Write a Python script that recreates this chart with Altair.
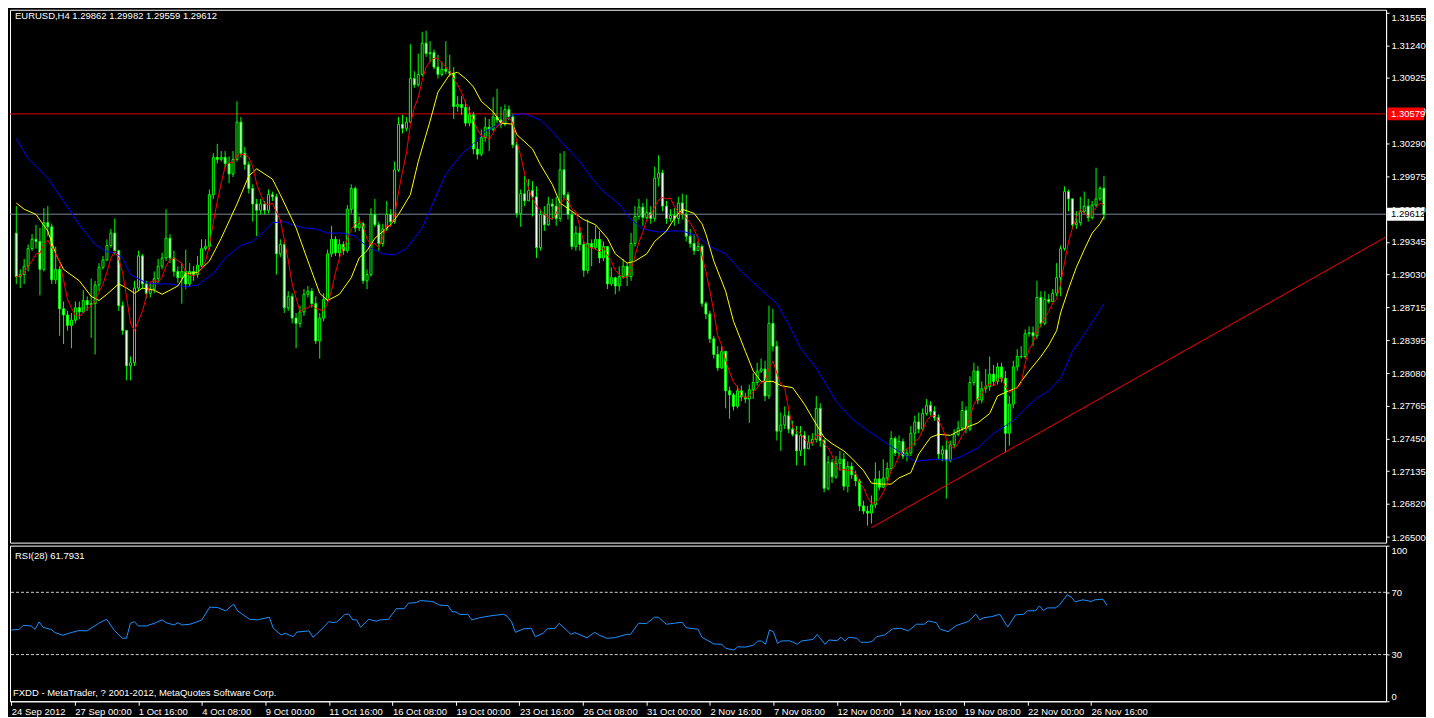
import altair as alt
import pandas as pd

FONT = "Tahoma, Liberation Sans, Arial, sans-serif"
FS = 9.5

# ---------------- data ----------------
first_open = 1.2943
close = [
    1.2901, 1.2903, 1.2911, 1.2928, 1.2937, 1.2935, 1.2908, 1.2953, 1.2949, 1.2898,
    1.2908, 1.2870, 1.2864, 1.2854, 1.2859, 1.2871, 1.2867, 1.2878, 1.2874, 1.2875,
    1.2893, 1.2910, 1.2917, 1.2931, 1.2943, 1.2926, 1.2873, 1.2849, 1.2815, 1.2818,
    1.2890, 1.2921, 1.2894, 1.2885, 1.2889, 1.2899, 1.2911, 1.2919, 1.2938, 1.2919,
    1.2906, 1.2900, 1.2906, 1.2894, 1.2906, 1.2903, 1.2912, 1.2928, 1.2930, 1.2980,
    1.3016, 1.3014, 1.3016, 1.3010, 1.3000, 1.3014, 1.3050, 1.3020, 1.3009, 1.2986,
    1.2971, 1.2965, 1.2971, 1.2965, 1.2980, 1.2978, 1.2923, 1.2932, 1.2871, 1.2882,
    1.2861, 1.2856, 1.2867, 1.2884, 1.2887, 1.2875, 1.2839, 1.2861, 1.2879, 1.2923,
    1.2937, 1.2924, 1.2932, 1.2926, 1.2966, 1.2986, 1.2948, 1.2952, 1.2897, 1.2903,
    1.2961, 1.2951, 1.2933, 1.2947, 1.2961, 1.2954, 1.3004, 1.3048, 1.3044, 1.3050,
    1.3092, 1.3086, 1.3096, 1.3126, 1.3116, 1.3117, 1.3103, 1.3096, 1.3101, 1.3099,
    1.3097, 1.3065, 1.3067, 1.3064, 1.3049, 1.3057, 1.3024, 1.3019, 1.3035, 1.3045,
    1.3043, 1.3055, 1.3052, 1.3048, 1.3062, 1.3055, 1.3028, 1.2962, 1.2981, 1.2974,
    1.2984, 1.2978, 1.2929, 1.2961, 1.2951, 1.2971, 1.2969, 1.2957, 1.3004, 1.2980,
    1.2961, 1.2930, 1.2943, 1.2932, 1.2907, 1.2933, 1.2929, 1.2937, 1.2919, 1.2930,
    1.2894, 1.2900, 1.2892, 1.2901, 1.2911, 1.2901, 1.2933, 1.2959, 1.2968, 1.2958,
    1.2963, 1.2957, 1.2996, 1.3001, 1.2969, 1.2957, 1.2960, 1.2957, 1.2972, 1.2961,
    1.2940, 1.2933, 1.2926, 1.2930, 1.2875, 1.2865, 1.2841, 1.2826, 1.2813, 1.2829,
    1.2791, 1.2787, 1.2776, 1.2791, 1.2785, 1.2783, 1.2792, 1.2799, 1.2810, 1.2812,
    1.2786, 1.2856, 1.2834, 1.2752, 1.2758, 1.2767, 1.2754, 1.2749, 1.2733, 1.2748,
    1.2735, 1.2741, 1.2744, 1.2774, 1.2743, 1.2697, 1.2722, 1.2708, 1.2721, 1.2725,
    1.2699, 1.2718, 1.2710, 1.2704, 1.2680, 1.2675, 1.2673, 1.2681, 1.2706, 1.2698,
    1.2707, 1.2716, 1.2745, 1.2731, 1.2742, 1.2728, 1.2731, 1.2750, 1.2761, 1.2754,
    1.2769, 1.2777, 1.2771, 1.2765, 1.2730, 1.2734, 1.2724, 1.2739, 1.2749, 1.2755,
    1.2772, 1.2754, 1.2799, 1.2810, 1.2782, 1.2793, 1.2795, 1.2807, 1.2800, 1.2814,
    1.2803, 1.2750, 1.2778, 1.2814, 1.2824, 1.2824, 1.2846, 1.2847, 1.2844, 1.2881,
    1.2856, 1.2879, 1.2877, 1.2885, 1.2900, 1.2928, 1.2983, 1.2976, 1.2951, 1.2953,
    1.2964, 1.2969, 1.2958, 1.2970, 1.2976, 1.29862, 1.29612,
]
high = [
    1.2969, 1.2908, 1.2918, 1.2932, 1.2942, 1.2951, 1.2948, 1.2967, 1.2969, 1.2952,
    1.2930, 1.2911, 1.2877, 1.2868, 1.2866, 1.2877, 1.2877, 1.2888, 1.2882, 1.2899,
    1.2897, 1.2914, 1.2921, 1.2937, 1.2947, 1.2957, 1.2927, 1.2877, 1.2847, 1.2824,
    1.2897, 1.2926, 1.2923, 1.2897, 1.2894, 1.2906, 1.2918, 1.2924, 1.2966, 1.2942,
    1.2926, 1.2911, 1.2914, 1.2927, 1.2914, 1.2911, 1.2921, 1.2937, 1.2937, 1.2985,
    1.3020, 1.3029, 1.3022, 1.3022, 1.3017, 1.3022, 1.3070, 1.3055, 1.3026, 1.3012,
    1.2990, 1.2976, 1.2976, 1.2974, 1.2985, 1.2983, 1.2981, 1.2937, 1.2935, 1.2887,
    1.2885, 1.2866, 1.2873, 1.2889, 1.2892, 1.2890, 1.2882, 1.2866, 1.2885, 1.2927,
    1.2950, 1.2940, 1.2937, 1.2935, 1.2970, 1.2990, 1.2988, 1.2959, 1.2954, 1.2908,
    1.2967, 1.2976, 1.2954, 1.2952, 1.2974, 1.2966, 1.3012, 1.3055, 1.3057, 1.3055,
    1.3125, 1.3099, 1.3116, 1.3137, 1.3138, 1.3128, 1.3120, 1.3115, 1.3108, 1.3128,
    1.3115, 1.3103, 1.3075, 1.3075, 1.3070, 1.3065, 1.3060, 1.3031, 1.3043, 1.3055,
    1.3053, 1.3074, 1.3082, 1.3065, 1.3067, 1.3066, 1.3058, 1.3031, 1.2985, 1.2998,
    1.2995, 1.2993, 1.2988, 1.2966, 1.2969, 1.2978, 1.2976, 1.2978, 1.3020, 1.3022,
    1.2983, 1.2964, 1.2950, 1.2949, 1.2935, 1.2956, 1.2937, 1.2950, 1.2945, 1.2935,
    1.2930, 1.2910, 1.2901, 1.2911, 1.2918, 1.2914, 1.2943, 1.2969, 1.2976, 1.2972,
    1.2976, 1.2969, 1.3007, 1.3018, 1.3004, 1.2974, 1.2966, 1.2967, 1.2978, 1.2981,
    1.2980, 1.2947, 1.2942, 1.2935, 1.2932, 1.2877, 1.2868, 1.2844, 1.2834, 1.2834,
    1.2829, 1.2795, 1.2789, 1.2796, 1.2796, 1.2789, 1.2797, 1.2808, 1.2818, 1.2822,
    1.2820, 1.2873, 1.2870, 1.2839, 1.2770, 1.2776, 1.2772, 1.2762, 1.2757, 1.2757,
    1.2752, 1.2748, 1.2750, 1.2786, 1.2779, 1.2745, 1.2728, 1.2725, 1.2728, 1.2733,
    1.2731, 1.2723, 1.2722, 1.2714, 1.2706, 1.2685, 1.2680, 1.2690, 1.2722, 1.2714,
    1.2725, 1.2722, 1.2752, 1.2747, 1.2748, 1.2745, 1.2735, 1.2757, 1.2767, 1.2770,
    1.2774, 1.2783, 1.2781, 1.2776, 1.2768, 1.2738, 1.2743, 1.2743, 1.2754, 1.2762,
    1.2781, 1.2776, 1.2805, 1.2818, 1.2815, 1.2800, 1.2812, 1.2824, 1.2816, 1.2818,
    1.2818, 1.2810, 1.2786, 1.2820, 1.2831, 1.2834, 1.2850, 1.2853, 1.2853, 1.2897,
    1.2887, 1.2887, 1.2884, 1.2889, 1.2914, 1.2931, 1.2988, 1.2985, 1.2976, 1.2964,
    1.2978, 1.2983, 1.2976, 1.2974, 1.3006, 1.2988, 1.29982,
]
low = [
    1.2894, 1.2890, 1.2894, 1.2906, 1.2926, 1.2928, 1.2883, 1.2906, 1.2940, 1.2894,
    1.2894, 1.2844, 1.2836, 1.2849, 1.2832, 1.2856, 1.2860, 1.2866, 1.2868, 1.2842,
    1.2826, 1.2887, 1.2908, 1.2916, 1.2929, 1.2922, 1.2868, 1.2845, 1.2801, 1.2801,
    1.2815, 1.2887, 1.2889, 1.2880, 1.2881, 1.2885, 1.2895, 1.2908, 1.2916, 1.2914,
    1.2901, 1.2895, 1.2875, 1.2889, 1.2891, 1.2897, 1.2900, 1.2910, 1.2926, 1.2927,
    1.2976, 1.3010, 1.3012, 1.3006, 1.2991, 1.2997, 1.3012, 1.3016, 1.3004, 1.2981,
    1.2954, 1.2940, 1.2961, 1.2961, 1.2962, 1.2974, 1.2903, 1.2920, 1.2866, 1.2868,
    1.2856, 1.2832, 1.2852, 1.2863, 1.2881, 1.2871, 1.2836, 1.2822, 1.2858, 1.2877,
    1.2920, 1.2921, 1.2920, 1.2922, 1.2924, 1.2962, 1.2944, 1.2945, 1.2894, 1.2889,
    1.2901, 1.2949, 1.2926, 1.2930, 1.2945, 1.2950, 1.2952, 1.3002, 1.3039, 1.3041,
    1.3049, 1.3083, 1.3084, 1.3094, 1.3113, 1.3108, 1.3101, 1.3092, 1.3094, 1.3096,
    1.3094, 1.3053, 1.3060, 1.3057, 1.3046, 1.3046, 1.3019, 1.3014, 1.3017, 1.3031,
    1.3022, 1.3041, 1.3049, 1.3044, 1.3046, 1.3052, 1.3025, 1.2958, 1.2949, 1.2969,
    1.2976, 1.2959, 1.2919, 1.2926, 1.2945, 1.2950, 1.2956, 1.2950, 1.2954, 1.2976,
    1.2956, 1.2927, 1.2926, 1.2926, 1.2901, 1.2904, 1.2911, 1.2927, 1.2914, 1.2916,
    1.2889, 1.2892, 1.2884, 1.2887, 1.2899, 1.2892, 1.2897, 1.2930, 1.2956, 1.2950,
    1.2956, 1.2952, 1.2954, 1.2988, 1.2964, 1.2952, 1.2954, 1.2950, 1.2952, 1.2956,
    1.2935, 1.2929, 1.2922, 1.2926, 1.2872, 1.2860, 1.2837, 1.2822, 1.2810, 1.2812,
    1.2774, 1.2764, 1.2772, 1.2774, 1.2781, 1.2779, 1.2760, 1.2783, 1.2796, 1.2808,
    1.2781, 1.2783, 1.2829, 1.2743, 1.2733, 1.2754, 1.2750, 1.2747, 1.2719, 1.2728,
    1.2719, 1.2735, 1.2738, 1.2741, 1.2737, 1.2693, 1.2695, 1.2702, 1.2706, 1.2714,
    1.2695, 1.2693, 1.2706, 1.2699, 1.2675, 1.2672, 1.2661, 1.2663, 1.2678, 1.2695,
    1.2697, 1.2704, 1.2714, 1.2728, 1.2728, 1.2725, 1.2723, 1.2728, 1.2738, 1.2750,
    1.2752, 1.2767, 1.2767, 1.2762, 1.2725, 1.2723, 1.2687, 1.2722, 1.2736, 1.2747,
    1.2752, 1.2750, 1.2752, 1.2796, 1.2778, 1.2779, 1.2789, 1.2791, 1.2796, 1.2797,
    1.2799, 1.2732, 1.2738, 1.2774, 1.2810, 1.2822, 1.2822, 1.2843, 1.2834, 1.2841,
    1.2852, 1.2854, 1.2875, 1.2877, 1.2882, 1.2882, 1.2926, 1.2964, 1.2947, 1.2947,
    1.2950, 1.2962, 1.2954, 1.2956, 1.2968, 1.2974, 1.29559,
]

# moving average lines (yellow, blue) read at bar positions
yel_idx = [0, 2, 5, 8, 10, 12, 16, 19, 21, 23, 26, 28, 30, 32, 35, 37, 41, 43, 46, 49,
           52, 56, 59, 61, 65, 67, 71, 74, 77, 79, 82, 85, 87, 89, 91, 95, 97, 100, 102, 105,
           107, 110, 112, 114, 116, 118, 121, 123, 126, 127, 131, 133, 136, 138, 141, 144, 147, 150, 152, 155,
           157, 160, 162, 165, 167, 169, 172, 174, 175, 177, 180, 182, 185, 187, 189, 192, 194, 197, 200, 202,
           205, 207, 210, 212, 215, 217, 219, 222, 224, 227, 229, 232, 234, 237, 239, 242, 244, 247, 249, 252,
           254, 255, 257, 260, 262, 264, 265, 267, 269, 271, 273, 275, 276]
yel_val = [1.2972, 1.2966, 1.2961, 1.2945, 1.2923, 1.2908, 1.2897, 1.2882, 1.2878, 1.2884,
           1.2894, 1.2890, 1.2885, 1.2890, 1.2888, 1.2884, 1.2892, 1.2904, 1.2905, 1.2916,
           1.2938, 1.2971, 1.2998, 1.3005, 1.2995, 1.2980, 1.2948, 1.2916, 1.2885, 1.2878,
           1.2884, 1.2900, 1.2919, 1.2926, 1.2938, 1.2951, 1.2961, 1.2980, 1.3012, 1.3051,
           1.3079, 1.3096, 1.3098, 1.3092, 1.3084, 1.3070, 1.3060, 1.3049, 1.3048, 1.3038,
           1.3024, 1.3009, 1.2990, 1.2972, 1.2964, 1.2956, 1.2951, 1.2938, 1.2923, 1.2914,
           1.2916, 1.2923, 1.2935, 1.2945, 1.2957, 1.2966, 1.2962, 1.2952, 1.2942, 1.2916,
           1.2887, 1.2858, 1.2829, 1.2810, 1.2800, 1.2800, 1.2796, 1.2794, 1.2778, 1.2765,
           1.2746, 1.2740, 1.2733, 1.2726, 1.2714, 1.2702, 1.2701, 1.2701, 1.2707, 1.2712,
           1.2730, 1.2746, 1.2749, 1.2748, 1.2752, 1.2757, 1.2760, 1.2769, 1.2786, 1.2791,
           1.2794, 1.2800, 1.2810, 1.2824, 1.2835, 1.2849, 1.2866, 1.2889, 1.2910, 1.2927,
           1.2943, 1.2952, 1.2959]
blue_idx = [0, 3, 8, 12, 16, 20, 23, 25, 27, 29, 33, 36, 39, 43, 46, 50, 53, 57, 60, 63,
            65, 68, 70, 73, 76, 79, 83, 86, 89, 93, 96, 99, 103, 106, 109, 113, 116, 119, 123, 126,
            129, 133, 136, 139, 143, 146, 149, 153, 156, 159, 163, 166, 169, 173, 176, 180, 184, 188, 193, 196,
            199, 203, 206, 208, 212, 217, 221, 225, 228, 233, 237, 240, 244, 248, 253, 256, 259, 262, 265, 268,
            272, 276]
blue_val = [1.3034, 1.3015, 1.2996, 1.2974, 1.2951, 1.2932, 1.2925, 1.2924, 1.2919, 1.2903,
            1.2895, 1.2894, 1.2894, 1.2891, 1.2893, 1.2904, 1.2919, 1.2931, 1.2935, 1.2945,
            1.2953, 1.2954, 1.2951, 1.2948, 1.2947, 1.2943, 1.2943, 1.2940, 1.2930, 1.2923,
            1.2922, 1.2928, 1.2948, 1.2974, 1.3000, 1.3019, 1.3029, 1.3041, 1.3049, 1.3057,
            1.3058, 1.3052, 1.3041, 1.3028, 1.3012, 1.2996, 1.2983, 1.2971, 1.2956, 1.2947,
            1.2944, 1.2945, 1.2945, 1.2940, 1.2930, 1.2923, 1.2906, 1.2892, 1.2875, 1.2855,
            1.2832, 1.2813, 1.2794, 1.2781, 1.2764, 1.2750, 1.2740, 1.2730, 1.2723, 1.2725,
            1.2724, 1.2728, 1.2736, 1.2750, 1.2762, 1.2774, 1.2784, 1.2791, 1.2803, 1.2829,
            1.2851, 1.2875]

# RSI(28)
rsi_idx = [0, 2, 3, 5, 6, 7, 8, 10, 11, 13, 15, 17, 19, 21, 22, 24, 26, 28, 29, 30,
           31, 32, 34, 36, 38, 39, 41, 42, 43, 45, 47, 48, 50, 52, 54, 56, 57, 60, 62, 65,
           66, 68, 69, 71, 72, 75, 76, 78, 80, 81, 82, 84, 85, 86, 87, 88, 90, 92, 93, 95,
           97, 99, 100, 102, 103, 106, 108, 110, 111, 112, 113, 115, 116, 118, 121, 124, 125, 126, 127, 129,
           131, 132, 134, 135, 137, 138, 141, 142, 145, 147, 148, 150, 152, 155, 156, 158, 160, 162, 163, 165,
           167, 169, 170, 171, 173, 174, 177, 179, 180, 182, 183, 185, 187, 188, 189, 190, 191, 192, 193, 194,
           196, 197, 198, 199, 201, 202, 203, 205, 206, 208, 209, 210, 211, 213, 214, 216, 217, 218, 220, 222,
           224, 226, 228, 230, 231, 233, 234, 236, 238, 241, 243, 244, 245, 247, 249, 251, 253, 255, 256, 258,
           259, 260, 261, 263, 264, 266, 267, 268, 270, 272, 273, 275, 276]
rsi_val = [45.8, 46.2, 48.8, 48.4, 46.2, 51.0, 47.5, 46.2, 44.1, 42.4, 44.1, 45.4, 45.2, 48.4, 50.1, 52.7, 45.4, 40.5, 40.5, 50.1,
           51.2, 48.4, 48.4, 50.1, 52.3, 50.5, 49.0, 50.5, 49.0, 49.5, 51.2, 52.3, 60.5, 60.2, 58.1, 62.4, 58.1, 52.7, 52.3, 54.0,
           46.9, 42.6, 43.7, 41.5, 44.5, 45.2, 41.1, 45.8, 51.2, 50.5, 51.0, 55.7, 56.1, 52.3, 52.3, 47.5, 52.7, 51.4, 52.3, 52.7,
           59.5, 59.5, 63.0, 63.4, 64.7, 64.1, 61.7, 61.5, 57.6, 57.4, 55.7, 55.9, 52.3, 53.7, 55.0, 55.9, 54.4, 51.2, 44.3, 46.5,
           46.9, 41.5, 43.7, 46.5, 46.9, 50.1, 43.0, 44.1, 40.8, 44.3, 42.6, 40.5, 40.8, 43.0, 43.0, 50.1, 49.9, 54.0, 54.0, 49.5,
           50.1, 50.8, 47.3, 46.9, 46.3, 41.1, 36.8, 36.6, 34.0, 32.9, 35.0, 34.8, 36.1, 38.7, 38.7, 36.6, 45.8, 44.7, 37.2, 38.7,
           38.9, 37.9, 36.6, 38.7, 39.4, 39.8, 43.0, 36.6, 39.4, 38.9, 41.1, 38.7, 41.1, 40.5, 37.9, 37.9, 38.7, 41.5, 42.6, 46.5,
           46.9, 45.2, 49.5, 49.5, 51.6, 50.5, 46.3, 44.7, 48.6, 51.2, 55.9, 52.3, 53.7, 54.4, 55.9, 47.7, 55.5, 55.9, 58.1, 58.1,
           61.3, 58.3, 60.0, 60.0, 61.7, 68.4, 66.9, 63.9, 65.2, 64.1, 65.2, 65.6, 61.7931]

# chart objects
hline_price = [1.30579, 1.29612]
hline_color = ["#e00000", "#778899"]
box_color = ["#ff0000", "#ffffff"]
box_text_color = ["#ffffff", "#000000"]
trend_idx = [217, 360]
trend_price = [1.2659, 1.2966]

price_ticks = [1.31555, 1.31240, 1.30925, 1.30610, 1.30290, 1.29975, 1.29660, 1.29345,
               1.29030, 1.28715, 1.28395, 1.28080, 1.27765, 1.27450, 1.27135, 1.26820, 1.26500]
time_tick_idx = [0, 16, 32, 48, 64, 80, 96, 112, 128, 144, 160, 176, 192, 208, 224, 240, 256, 272]
time_tick_lbl = ["24 Sep 2012", "27 Sep 00:00", "1 Oct 16:00", "4 Oct 08:00", "9 Oct 00:00",
                 "11 Oct 16:00", "16 Oct 08:00", "19 Oct 00:00", "23 Oct 16:00", "26 Oct 08:00",
                 "31 Oct 00:00", "2 Nov 16:00", "7 Nov 08:00", "12 Nov 00:00", "14 Nov 16:00",
                 "19 Nov 08:00", "22 Nov 00:00", "26 Nov 16:00"]
rsi_levels = [30, 70]

# ---------------- tables ----------------
n = len(close)
open_ = [first_open] + close[:-1]
hi = [max(h, o, c) for h, o, c in zip(high, open_, close)]
lo = [min(l, o, c) for l, o, c in zip(low, open_, close)]
candles = pd.DataFrame({"idx": list(range(n)), "open": open_, "high": hi, "low": lo, "close": close})
yel = pd.DataFrame({"idx": yel_idx, "v": yel_val})
blue = pd.DataFrame({"idx": blue_idx, "v": blue_val})
rsi = pd.DataFrame({"idx": rsi_idx, "rsi": rsi_val})
hl = pd.DataFrame({"price": hline_price, "col": hline_color, "box": box_color,
                   "tcol": box_text_color, "label": [f"{p:.5f}" for p in hline_price]})
trend = pd.DataFrame({"idx": trend_idx, "price": trend_price})
header = pd.DataFrame({"t": [f"EURUSD,H4  {open_[-1]:.5f} {hi[-1]:.5f} {lo[-1]:.5f} {close[-1]:.5f}"]})
rsi_head = pd.DataFrame({"t": [f"RSI(28) {rsi_val[-1]:.4f}"]})
copyright_ = pd.DataFrame({"t": ["FXDD - MetaTrader, ? 2001-2012, MetaQuotes Software Corp."]})
lv = pd.DataFrame({"lvl": rsi_levels})

# ---------------- scales / axes ----------------
W = 1379
H_MAIN = 534
H_RSI = 156
BAR_PX = 3.978
xscale = alt.Scale(domain=[-0.33, -0.33 + W / BAR_PX], nice=False, zero=False)
yscale = alt.Scale(domain=[1.26446, 1.31583], nice=False, zero=False)

price_axis = alt.Axis(orient="right", values=price_ticks, format=".5f", title=None, grid=False,
                      tickSize=3, labelPadding=2, labelOverlap=False, labelFlush=4, labelBound=False)


def PX():
    return alt.X("idx:Q", scale=xscale, axis=None)


def PY(field):
    return alt.Y(field, scale=yscale, axis=price_axis)


hrules = alt.Chart(hl).mark_rule(strokeWidth=1).encode(
    y=PY("price:Q"), color=alt.Color("col:N", scale=None))
wicks = alt.Chart(candles).mark_rule(color="#00ff00", strokeWidth=1).encode(
    x=PX(), y=PY("low:Q"), y2="high:Q")
bodies = alt.Chart(candles).mark_bar(size=2, stroke="#00ff00", strokeWidth=1).encode(
    x=PX(), y=PY("open:Q"), y2="close:Q",
    fill=alt.condition("datum.close < datum.open", alt.value("#ffffff"), alt.value("#000000")))
blue_line = alt.Chart(blue).mark_line(color="#0000ff", strokeWidth=1).encode(x=PX(), y=PY("v:Q"))
yel_line = alt.Chart(yel).mark_line(color="#ffff00", strokeWidth=1).encode(x=PX(), y=PY("v:Q"))
red_line = alt.Chart(candles).transform_window(
    ma5="mean(close)", frame=[-4, 0], sort=[alt.SortField("idx", order="ascending")]
).mark_line(color="#ff0000", strokeWidth=1).encode(x=PX(), y=PY("ma5:Q"))
trend_line = alt.Chart(trend).mark_line(color="#ff0000", strokeWidth=1, clip=True).encode(
    x=PX(), y=PY("price:Q"))
BOX_W = 37
box_path = "M-1,-0.35L1,-0.35L1,0.35L-1,0.35Z"
boxes = alt.Chart(hl).mark_point(shape=box_path, size=BOX_W * BOX_W, filled=True, opacity=1,
                                 strokeWidth=0).encode(
    x=alt.value(W + 1 + BOX_W / 2), y=PY("price:Q"), color=alt.Color("box:N", scale=None))
box_txt = alt.Chart(hl).mark_text(align="left", baseline="middle", font=FONT, fontSize=FS).encode(
    x=alt.value(W + 5), y=PY("price:Q"), text="label:N", color=alt.Color("tcol:N", scale=None))
head_txt = alt.Chart(header).mark_text(align="left", baseline="middle", font=FONT, fontSize=FS,
                                       color="#ffffff").encode(
    x=alt.value(5), y=alt.value(6), text="t:N")

main = alt.layer(hrules, wicks, bodies, blue_line, yel_line, red_line, trend_line,
                 boxes, box_txt, head_txt).properties(width=W, height=H_MAIN)

label_expr = "[" + ",".join(f"'{s}'" for s in time_tick_lbl) + "][round(datum.value/16)]"
time_axis = alt.Axis(values=time_tick_idx, labelExpr=label_expr, title=None, grid=False,
                     tickSize=4, labelAlign="left", labelBaseline="top", labelPadding=1,
                     labelFlush=False, labelOverlap=False, labelBound=False)
rsi_axis = alt.Axis(orient="right", values=[0, 30, 70, 100], title=None, grid=False,
                    tickSize=3, labelPadding=2, labelFlush=True, labelOverlap=False)
rscale = alt.Scale(domain=[0, 100], nice=False, zero=False)

rsi_line = alt.Chart(rsi).mark_line(color="#1e90ff", strokeWidth=1).encode(
    x=alt.X("idx:Q", scale=xscale, axis=time_axis),
    y=alt.Y("rsi:Q", scale=rscale, axis=rsi_axis))
rsi_lv = alt.Chart(lv).mark_rule(color="#d0d0d0", strokeDash=[3, 2], strokeWidth=1).encode(
    y=alt.Y("lvl:Q", scale=rscale, axis=rsi_axis))
rsi_t = alt.Chart(rsi_head).mark_text(align="left", baseline="middle", font=FONT, fontSize=FS,
                                      color="#ffffff").encode(x=alt.value(5), y=alt.value(10), text="t:N")
copy_t = alt.Chart(copyright_).mark_text(align="left", baseline="middle", font=FONT, fontSize=FS,
                                         color="#ffffff").encode(x=alt.value(3), y=alt.value(148), text="t:N")

rsi_panel = alt.layer(rsi_lv, rsi_line, rsi_t, copy_t).properties(width=W, height=H_RSI)

chart = alt.vconcat(main, rsi_panel, spacing=3, bounds="flush").properties(
    padding={"left": 0, "top": 0, "right": 0, "bottom": 0}
).configure(background="#000000").configure_view(
    stroke="#ffffff", strokeWidth=1
).configure_axis(
    labelFont=FONT, labelFontSize=FS, labelColor="#ffffff", tickColor="#ffffff",
    domainColor="#ffffff", domainWidth=1, tickWidth=1
)

chart.save("out.html", embed_options={"renderer": "svg", "actions": False})
